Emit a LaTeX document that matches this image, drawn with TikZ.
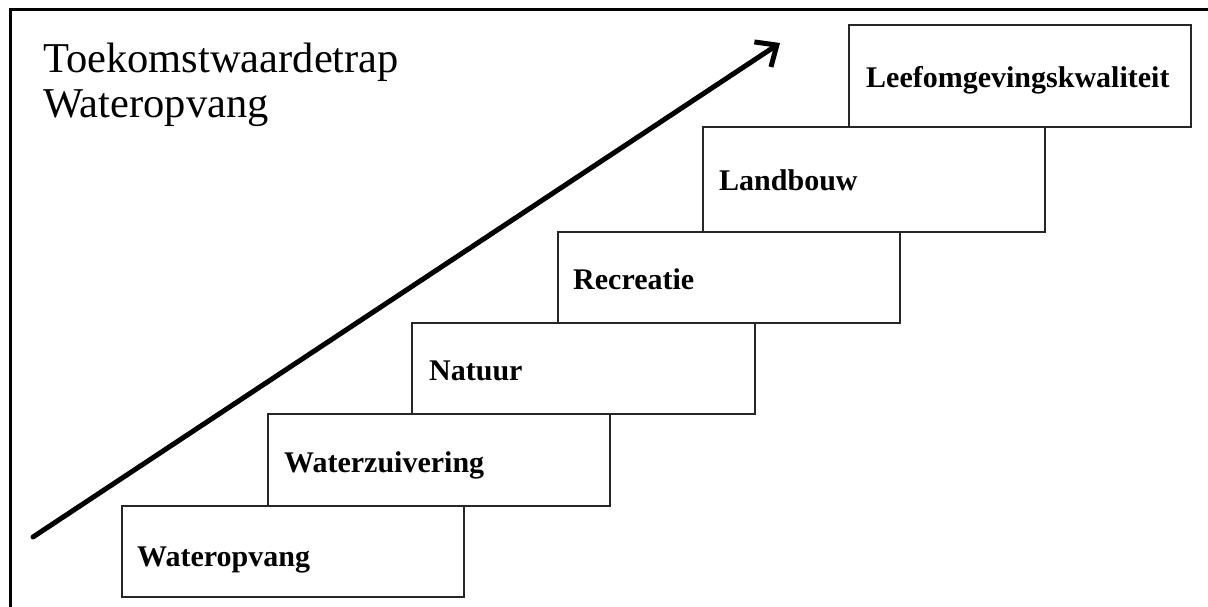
\documentclass[tikz,border=0pt]{standalone}
\usepackage{fontspec}
\setmainfont{Liberation Serif}
\usetikzlibrary{arrows.meta}
\begin{document}
\begin{tikzpicture}[x=1pt,y=-1pt,
  frame/.style={line width=3pt,black},
  stepbox/.style={draw=black!85,line width=1.6pt,fill=white,inner sep=0pt},
  steplabel/.style={anchor=base west,inner sep=0pt,font=\fontsize{30}{34}\selectfont\bfseries},
  titleline/.style={anchor=base west,inner sep=0pt,font=\fontsize{42.5}{46}\selectfont},
  rise/.style={line width=5pt,line cap=round,-{Straight Barb[length=17pt,width=30pt,line width=5pt]}}]
\useasboundingbox (0,0) rectangle (1208,607);
\fill[white] (0,0) rectangle (1208,607);

% outer frame (only the top and left edges fall inside the page)
\coordinate (fbl) at (10,607);
\coordinate (ftl) at (10,10);
\coordinate (ftr) at (1208,10);
\draw[frame] (fbl) -- (ftl) -- (ftr);

% title
\node[titleline] (title1) at (43,73) {Toekomstwaardetrap};
\node[titleline] (title2) at (43,118) {Wateropvang};

% rising arrow
\coordinate (arrowtail) at (33,537);
\coordinate (arrowtip) at (780,43);
\draw[rise] (arrowtail) -- (arrowtip);

% the steps, from the bottom up
\path[stepbox] (122,506) rectangle (464,597) node[pos=0.5,inner sep=0pt] (s1) {};
\path[stepbox] (268,414) rectangle (610,506) node[pos=0.5,inner sep=0pt] (s2) {};
\path[stepbox] (412,323) rectangle (755,414) node[pos=0.5,inner sep=0pt] (s3) {};
\path[stepbox] (558,232) rectangle (900,323) node[pos=0.5,inner sep=0pt] (s4) {};
\path[stepbox] (703,127) rectangle (1045,232) node[pos=0.5,inner sep=0pt] (s5) {};
\path[stepbox] (849,25) rectangle (1191,127) node[pos=0.5,inner sep=0pt] (s6) {};

\node[steplabel] (l1) at (137,566) {Wateropvang};
\node[steplabel] (l2) at (284,472) {Waterzuivering};
\node[steplabel] (l3) at (429,380) {Natuur};
\node[steplabel] (l4) at (573,289) {Recreatie};
\node[steplabel] (l5) at (719,190) {Landbouw};
\node[steplabel] (l6) at (866,88) {Leefomgevingskwaliteit};
\end{tikzpicture}
\end{document}
